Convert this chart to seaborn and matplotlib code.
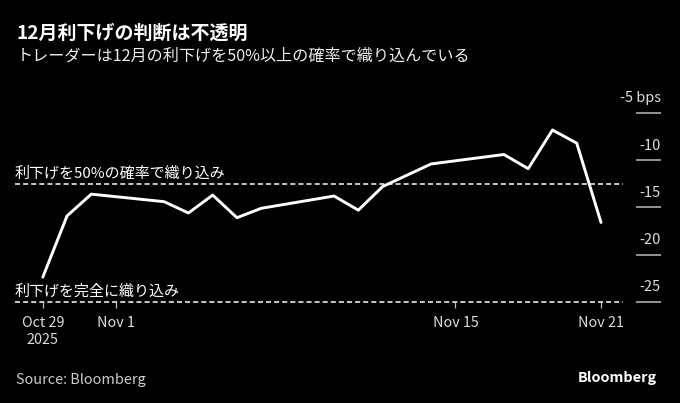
import pandas as pd
import matplotlib
matplotlib.use("Agg")
import matplotlib.pyplot as plt
import seaborn as sns

# data (bps of cuts priced for December)
dates = ["2025-10-29", "2025-10-30", "2025-10-31", "2025-11-03", "2025-11-04",
         "2025-11-05", "2025-11-06", "2025-11-07", "2025-11-10", "2025-11-11",
         "2025-11-12", "2025-11-14", "2025-11-17", "2025-11-18", "2025-11-19",
         "2025-11-20", "2025-11-21"]
bps = [-22.4, -15.9, -13.6, -14.4, -15.6, -13.7, -16.1, -15.1, -13.8, -15.3,
       -12.8, -10.4, -9.4, -10.9, -6.8, -8.2, -16.6]

ref_levels = [-12.5, -25]
ref_labels = ["利下げを50%の確率で織り込み", "利下げを完全に織り込み"]

y_ticks = [-5, -10, -15, -20, -25]
y_labels = ["-5 bps", "-10", "-15", "-20", "-25"]

x_ticks = ["2025-10-29", "2025-11-01", "2025-11-15", "2025-11-21"]
x_labels = ["Oct 29\n2025", "Nov 1", "Nov 15", "Nov 21"]

df = pd.DataFrame({"date": pd.to_datetime(dates), "bps": bps})

sns.set_theme(style="dark", rc={
    "figure.facecolor": "black",
    "axes.facecolor": "black",
    "savefig.facecolor": "black",
})
plt.rcParams["font.family"] = ["Noto Sans CJK JP", "DejaVu Sans"]

fig = plt.figure(figsize=(6.8, 4.03), dpi=100)
W, H = 680, 403
# axes: x from px 15 to 661, y from px 113 (-5) to 301.7 (-25)
ax = fig.add_axes([15 / W, (H - 301.7) / H, (661 - 15) / W, (301.7 - 113) / H])

t0 = pd.Timestamp("2025-10-29")
px_per_day = 24.27
ax.set_xlim(t0 - pd.Timedelta(days=(42.8 - 15) / px_per_day),
            t0 + pd.Timedelta(days=(661 - 42.8) / px_per_day))
ax.set_ylim(-25, -5)

sns.lineplot(data=df, x="date", y="bps", ax=ax, color="white", lw=2.1,
             clip_on=False)

# reference dashed lines with labels
line_end = t0 + pd.Timedelta(days=(623 - 42.8) / px_per_day)
ax_start = ax.get_xlim()[0]
for lvl, lab in zip(ref_levels, ref_labels):
    ax.hlines(lvl, ax_start, line_end, colors="white", lw=1.1,
              linestyles=(0, (3.3, 2.0)), clip_on=False)
    ax.annotate(lab, xy=(0, lvl), xycoords=("axes fraction", "data"),
                xytext=(0, 7), textcoords="offset points",
                ha="left", va="center", color="white", fontsize=10.8)

# right side short gridlines and labels
g_start = t0 + pd.Timedelta(days=(636 - 42.8) / px_per_day)
g_end = ax.get_xlim()[1]
for v, lab in zip(y_ticks, y_labels):
    ax.hlines(v, g_start, g_end, colors="#bbbbbb", lw=1.1, clip_on=False)
    ax.annotate(lab, xy=(1, v), xycoords=("axes fraction", "data"),
                xytext=(0, 10.5), textcoords="offset points",
                ha="right", va="center", color="#dddddd", fontsize=10.5)

ax.set_yticks([])
ax.set_xticks(pd.to_datetime(x_ticks))
ax.set_xticklabels(x_labels, color="#dddddd", fontsize=10.3, linespacing=1.3)
ax.tick_params(axis="x", length=4, width=0.9, color="#bbbbbb", pad=6,
               bottom=True)
ax.set_xlabel("")
ax.set_ylabel("")
ax.grid(False)
for s in ax.spines.values():
    s.set_visible(False)

fig.text(17 / W, 1 - 33 / H, "12月利下げの判断は不透明", color="white",
         fontsize=13.7, fontweight="bold", ha="left", va="center")
fig.text(17 / W, 1 - 56 / H, "トレーダーは12月の利下げを50%以上の確率で織り込んでいる",
         color="#eeeeee", fontsize=11.6, ha="left", va="center")
fig.text(16 / W, 1 - 380 / H, "Source: Bloomberg", color="#cccccc",
         fontsize=10.4, ha="left", va="center")
fig.text(657 / W, 1 - 378 / H, "Bloomberg", color="white", fontsize=10.4,
         fontweight="bold", ha="right", va="center")

fig.savefig("out.png", dpi=100, facecolor="black")
